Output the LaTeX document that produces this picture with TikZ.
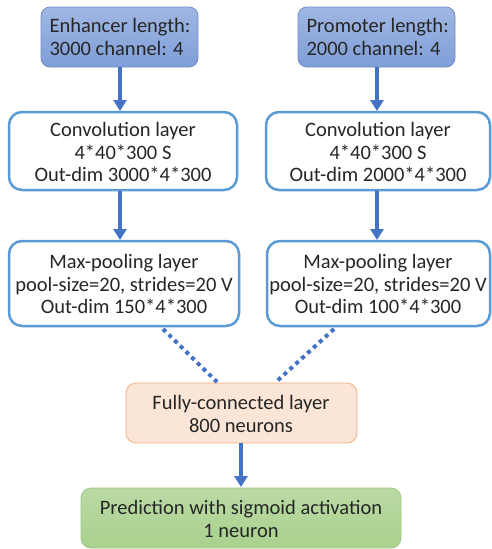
\documentclass[tikz,border=0pt]{standalone}
\usepackage{fontspec}
\setmainfont{Carlito}
\usetikzlibrary{arrows.meta}
\definecolor{inblue}{HTML}{8FAADC}
\definecolor{inblueb}{HTML}{7F9ED8}
\definecolor{edgeblue}{HTML}{5B9BD5}
\definecolor{arrowblue}{HTML}{4472C4}
\definecolor{fcfill}{HTML}{FBE5D6}
\definecolor{fcedge}{HTML}{F4B183}
\definecolor{prfill}{HTML}{A9D18E}
\definecolor{predge}{HTML}{9DC983}
\begin{document}
\begin{tikzpicture}[x=1pt,y=-1pt,
  every node/.style={font=\fontsize{20.5}{22.5}\selectfont, text=black!85, align=center},
  inbox/.style={draw=inblueb!90!black, line width=0.8pt, rounded corners=9pt, top color=inblue!85, bottom color=inblueb},
  layerbox/.style={draw=edgeblue, line width=2.5pt, rounded corners=13pt, fill=white},
  fcbox/.style={draw=fcedge, line width=0.8pt, rounded corners=10pt, fill=fcfill},
  prbox/.style={draw=predge, line width=0.8pt, rounded corners=10pt, top color=prfill!80, bottom color=prfill},
  flow/.style={draw=arrowblue, line width=3.5pt, -{Triangle[length=11pt,width=13pt]}},
  dots/.style={draw=arrowblue, line width=4pt, dash pattern=on 4pt off 4pt}
]
\useasboundingbox (0,0) rectangle (492,549);
% input boxes
\path[inbox] (41,7) rectangle (198,67);
\node[anchor=west, align=left] (enh) at (46,37) {Enhancer length:\\3000 channel: 4};
\path[inbox] (298,7) rectangle (455,67);
\node[anchor=west, align=left] (pro) at (303,37) {Promoter length:\\2000 channel: 4};
\coordinate (enhb) at (120,67);
\coordinate (prob) at (377,67);
% conv boxes
\draw[layerbox] (9,112) rectangle (237,190);
\node (convL) at (123,152) {Convolution layer\\4*40*300 S\\Out-dim 3000*4*300};
\draw[layerbox] (266,112) rectangle (490,190);
\node (convR) at (378,152) {Convolution layer\\4*40*300 S\\Out-dim 2000*4*300};
% pool boxes
\draw[layerbox] (9,241) rectangle (239,326);
\node (poolL) at (124,284) {Max-pooling layer\\pool-size=20, strides=20 V\\Out-dim 150*4*300};
\draw[layerbox] (267,241) rectangle (490,326);
\node (poolR) at (378,284) {Max-pooling layer\\pool-size=20, strides=20 V\\Out-dim 100*4*300};
% fc
\draw[fcbox] (126,383) rectangle (357,443);
\node (fc) at (241,414) {Fully-connected layer\\800 neurons};
% prediction
\draw[prbox] (81,488) rectangle (401,548);
\node (pred) at (241,519) {Prediction with sigmoid activation\\1 neuron};
% arrows
\coordinate (cLt) at (120,111);
\coordinate (cRt) at (377,111);
\coordinate (cLb) at (120,191);
\coordinate (cRb) at (377,191);
\coordinate (pLt) at (120,240);
\coordinate (pRt) at (377,240);
\coordinate (fcb) at (241,443);
\coordinate (prt) at (241,487);
\draw[flow] (enhb) -- (cLt);
\draw[flow] (prob) -- (cRt);
\draw[flow] (cLb) -- (pLt);
\draw[flow] (cRb) -- (pRt);
\draw[flow] (fcb) -- (prt);
\coordinate (dL1) at (163,329);
\coordinate (dL2) at (217,382);
\coordinate (dR1) at (334,329);
\coordinate (dR2) at (276,382);
\draw[dots] (dL1) -- (dL2);
\draw[dots] (dR1) -- (dR2);
\end{tikzpicture}
\end{document}
